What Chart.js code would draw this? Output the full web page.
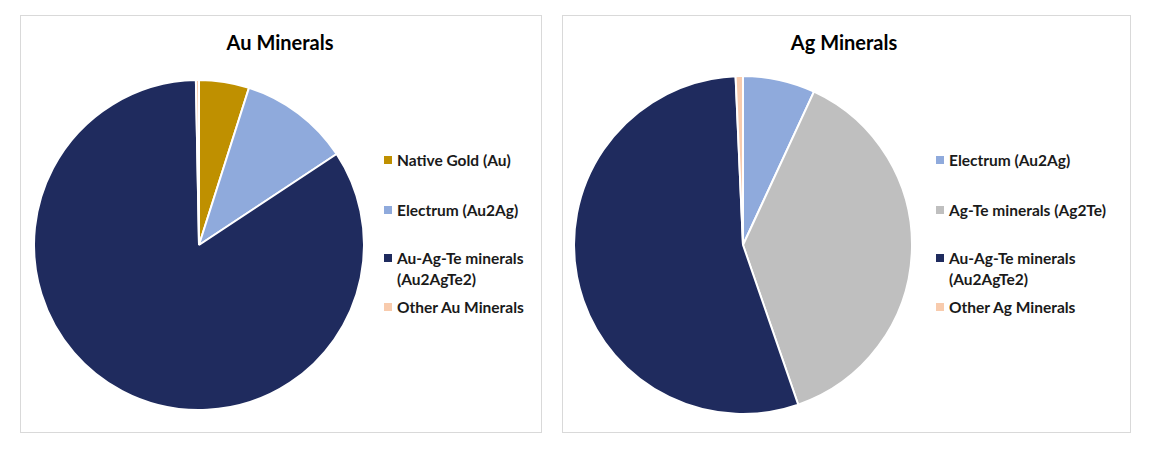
<!DOCTYPE html>
<html>
<head>
<meta charset="utf-8">
<script src="https://cdn.jsdelivr.net/npm/chart.js@4.4.1/dist/chart.umd.min.js"></script>
<style>
  body { margin: 0; background: #fff; font-family: Lato, "Open Sans", sans-serif; }
  .panel { position: absolute; border: 1px solid #d9d9d9; box-sizing: border-box; }
  .title { position: absolute; font-weight: bold; font-size: 20px; color: #000; transform: translateX(-50%); white-space: nowrap; }
  .pie { position: absolute; }
  .legend { position: absolute; font-size: 15.5px; font-weight: bold; color: #1a1a1a; line-height: 21px; }
  .legend .item { position: absolute; white-space: nowrap; padding-left: 13px; }
  .legend .sw { position: absolute; left: 0; top: 6px; width: 8px; height: 8px; }
</style>
</head>
<body>
<div class="panel" style="left:20px;top:15px;width:522px;height:418px;"></div>
<div class="panel" style="left:562px;top:15px;width:569px;height:418px;"></div>
<div class="title" style="left:280px;top:30px;">Au Minerals</div>
<div class="title" style="left:844px;top:30px;">Ag Minerals</div>
<canvas id="auPie" class="pie"></canvas>
<canvas id="agPie" class="pie"></canvas>
<div id="auLegend" class="legend" style="left:384px;top:0;"></div>
<div id="agLegend" class="legend" style="left:936px;top:0;"></div>
<script>
// Au minerals (clockwise from 12 o'clock)
const auLabels = ['Native Gold (Au)', 'Electrum (Au2Ag)', ['Au-Ag-Te minerals', '(Au2AgTe2)'], 'Other Au Minerals'];
const auValues = [4.9, 10.8, 84.0, 0.3];
const auColors = ['#bf9000', '#8faadc', '#1f2b5e', '#f8cbad'];

// Ag minerals
const agLabels = ['Electrum (Au2Ag)', 'Ag-Te minerals (Ag2Te)', ['Au-Ag-Te minerals', '(Au2AgTe2)'], 'Other Ag Minerals'];
const agValues = [6.9, 37.8, 54.6, 0.7];
const agColors = ['#8faadc', '#bfbfbf', '#1f2b5e', '#f8cbad'];

const legendTops = [150, 200, 248, 297];

function makePie(id, cx, cy, r, labels, values, colors) {
    const size = 2 * r + 4;
    const cv = document.getElementById(id);
    cv.style.left = (cx - size / 2) + 'px';
    cv.style.top = (cy - size / 2) + 'px';
    cv.width = size;
    cv.height = size;
    return new Chart(cv, {
        type: 'pie',
        data: {
            labels: labels,
            datasets: [{
                data: values,
                backgroundColor: colors,
                borderColor: '#ffffff',
                borderWidth: 2
            }]
        },
        options: {
            responsive: false,
            animation: false,
            layout: { padding: 0 },
            plugins: { legend: { display: false }, tooltip: { enabled: false } }
        }
    });
}

function makeLegend(id, labels, colors) {
    const box = document.getElementById(id);
    labels.forEach((lab, i) => {
        const item = document.createElement('div');
        item.className = 'item';
        item.style.top = legendTops[i] + 'px';
        const sw = document.createElement('span');
        sw.className = 'sw';
        sw.style.background = colors[i];
        item.appendChild(sw);
        const txt = document.createElement('span');
        txt.innerHTML = Array.isArray(lab) ? lab.join('<br>') : lab;
        item.appendChild(txt);
        box.appendChild(item);
    });
}

makePie('auPie', 198.5, 245, 164, auLabels, auValues, auColors);
makePie('agPie', 743, 244.5, 168, agLabels, agValues, agColors);
makeLegend('auLegend', auLabels, auColors);
makeLegend('agLegend', agLabels, agColors);
</script>
</body>
</html>
